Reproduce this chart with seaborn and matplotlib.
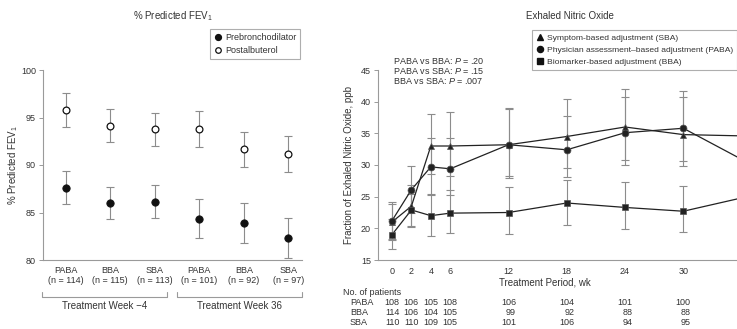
import numpy as np
import pandas as pd
import matplotlib
matplotlib.use("Agg")
import matplotlib.pyplot as plt
import matplotlib.transforms as mtrans
from matplotlib.lines import Line2D
import seaborn as sns

# ---------------- data ----------------
fev_groups = ["PABA\n(n = 114)", "BBA\n(n = 115)", "SBA\n(n = 113)",
              "PABA\n(n = 101)", "BBA\n(n = 92)", "SBA\n(n = 97)"]
pre_mean = [87.6, 86.0, 86.1, 84.3, 83.9, 82.3]
pre_lo = [85.9, 84.3, 84.4, 82.3, 81.8, 80.25]
pre_hi = [89.4, 87.7, 87.9, 86.4, 86.0, 84.45]
post_mean = [95.8, 94.1, 93.75, 93.75, 91.65, 91.2]
post_lo = [94.0, 92.4, 92.0, 91.9, 89.8, 89.3]
post_hi = [97.6, 95.9, 95.5, 95.7, 93.5, 93.1]
week_groups = ["Treatment Week \u22124", "Treatment Week 36"]

weeks = [0, 2, 4, 6, 12, 18, 24, 30, 36]
sba_mean = [21.0, 23.5, 33.0, 33.0, 33.2, 34.5, 36.0, 34.8, 34.6]
sba_lo = [18.2, 20.2, 28.6, 28.3, 28.2, 29.6, 30.0, 29.9, 29.5]
sba_hi = [23.8, 26.8, 38.1, 38.4, 39.0, 40.4, 42.0, 41.7, 40.0]
paba_mean = [21.2, 26.1, 29.7, 29.4, 33.2, 32.4, 35.1, 35.8, 30.9]
paba_lo = [18.3, 22.4, 25.4, 25.3, 28.0, 28.1, 30.8, 30.7, 26.5]
paba_hi = [24.1, 29.8, 34.3, 34.2, 38.9, 37.7, 40.8, 40.8, 35.5]
bba_mean = [19.0, 22.9, 22.0, 22.4, 22.5, 24.0, 23.3, 22.7, 24.8]
bba_lo = [16.7, 20.4, 18.8, 19.2, 19.05, 20.5, 19.9, 19.4, 21.0]
bba_hi = [21.5, 25.4, 25.2, 26.0, 26.6, 27.7, 27.3, 26.7, 28.5]

tick_weeks = [0, 2, 4, 6, 12, 18, 24, 30]
n_paba = ["108", "106", "105", "108", "106", "104", "101", "100"]
n_bba = ["114", "106", "104", "105", "99", "92", "88", "88"]
n_sba = ["110", "110", "109", "105", "101", "106", "94", "95"]

p_texts = ["PABA vs BBA: $P$ = .20", "PABA vs SBA: $P$ = .15", "BBA vs SBA: $P$ = .007"]

# ---------------- style ----------------
sns.set_theme(style="ticks")
TXT = "#333333"
GRID = "#9a9a9a"
ERR = "#8c8c8c"
plt.rcParams["font.family"] = ["Liberation Sans", "DejaVu Sans"]
plt.rcParams["mathtext.fontset"] = "custom"
plt.rcParams["mathtext.rm"] = "Liberation Sans"
plt.rcParams["mathtext.it"] = "Liberation Sans:italic"
plt.rcParams["font.size"] = 6.5
plt.rcParams["text.color"] = TXT
plt.rcParams["axes.labelcolor"] = TXT
plt.rcParams["xtick.color"] = TXT
plt.rcParams["ytick.color"] = TXT

W, H = 737, 329
fig = plt.figure(figsize=(W / 100, H / 100), dpi=100)

def fx(px):
    return px / W

def fy(py):
    return 1 - py / H

# ================= LEFT PANEL =================
axL_x0, axL_x1 = 43, 301.7
axL = fig.add_axes([fx(axL_x0), fy(260), fx(axL_x1 - axL_x0), (260 - 70) / H])
pos = np.arange(len(fev_groups))
dfL = pd.DataFrame({
    "pos": np.concatenate([pos, pos]),
    "val": pre_mean + post_mean,
    "kind": ["Prebronchodilator"] * 6 + ["Postalbuterol"] * 6,
})
axL.errorbar(pos, pre_mean,
             yerr=[np.array(pre_mean) - np.array(pre_lo), np.array(pre_hi) - np.array(pre_mean)],
             fmt="none", ecolor=ERR, elinewidth=0.8, capsize=3, capthick=0.8, zorder=1)
axL.errorbar(pos, post_mean,
             yerr=[np.array(post_mean) - np.array(post_lo), np.array(post_hi) - np.array(post_mean)],
             fmt="none", ecolor=ERR, elinewidth=0.8, capsize=3, capthick=0.8, zorder=1)
sns.scatterplot(data=dfL[dfL.kind == "Prebronchodilator"], x="pos", y="val", ax=axL,
                color="#111111", edgecolor="#111111", s=28, linewidth=0.6, zorder=3, legend=False)
sns.scatterplot(data=dfL[dfL.kind == "Postalbuterol"], x="pos", y="val", ax=axL,
                facecolor="white", edgecolor="#111111", s=24, linewidth=0.9, zorder=3, legend=False)
axL.set_xlim(-0.51, 5.3)
axL.set_ylim(80, 100)
axL.set_yticks([80, 85, 90, 95, 100])
axL.set_xticks(pos)
axL.set_xticklabels(fev_groups, linespacing=1.25)
axL.tick_params(axis="x", length=0, pad=4, labelsize=6.5)
axL.tick_params(axis="y", length=3, width=0.7, color=GRID, pad=2, labelsize=6.5)
axL.set_xlabel("")
axL.set_ylabel("% Predicted FEV$_1$", fontsize=7)
axL.yaxis.set_label_coords(-(axL_x0 - 20) / (axL_x1 - axL_x0), 0.5)
for s in ["top", "right"]:
    axL.spines[s].set_visible(False)
for s in ["left", "bottom"]:
    axL.spines[s].set_color(GRID)
    axL.spines[s].set_linewidth(0.8)

# group brackets
for (x0, x1), lab in zip([(42.3, 166.7), (177.3, 301.7)], week_groups):
    fig.add_artist(Line2D([fx(x0), fx(x0), fx(x1), fx(x1)],
                          [fy(291.5), fy(296.5), fy(296.5), fy(291.5)],
                          color=GRID, lw=0.8, transform=fig.transFigure))
    fig.text(fx((x0 + x1) / 2), fy(306), lab, ha="center", va="center", fontsize=7)

fig.text(fx(173), fy(16), "% Predicted FEV$_1$", ha="center", va="center", fontsize=7)

hL = [Line2D([], [], ls="none", marker="o", ms=4.2, mfc="#111111", mec="#111111"),
      Line2D([], [], ls="none", marker="o", ms=4.0, mfc="white", mec="#111111", mew=0.9)]
legL = fig.legend(hL, ["Prebronchodilator", "Postalbuterol"], loc="upper left",
                  bbox_to_anchor=(fx(210), fy(29.3)), frameon=True, fancybox=False,
                  edgecolor=GRID, fontsize=6.5, handlelength=0.8, handletextpad=0.4,
                  borderpad=0.45, labelspacing=0.45, borderaxespad=0)
legL.get_frame().set_linewidth(0.8)

# ================= RIGHT PANEL =================
axR_x0 = 378
axR = fig.add_axes([fx(axR_x0), fy(260), 1 - fx(axR_x0), (260 - 70) / H])
series = [
    ("SBA", sba_mean, sba_lo, sba_hi),
    ("PABA", paba_mean, paba_lo, paba_hi),
    ("BBA", bba_mean, bba_lo, bba_hi),
]
for name, m, lo, hi in series:
    m = np.array(m); lo = np.array(lo); hi = np.array(hi)
    axR.errorbar(weeks, m, yerr=[m - lo, hi - m], fmt="none", ecolor=ERR,
                 elinewidth=0.8, capsize=3, capthick=0.8, zorder=1)
dfR = pd.DataFrame({
    "week": weeks * 3,
    "val": sba_mean + paba_mean + bba_mean,
    "grp": ["SBA"] * len(weeks) + ["PABA"] * len(weeks) + ["BBA"] * len(weeks),
})
sns.lineplot(data=dfR, x="week", y="val", hue="grp", style="grp",
             hue_order=["SBA", "PABA", "BBA"], style_order=["SBA", "PABA", "BBA"],
             palette=["#222222"] * 3, markers={"SBA": "^", "PABA": "o", "BBA": "s"},
             dashes=False, markersize=5.0, markeredgecolor="#555555", markeredgewidth=0.5,
             linewidth=0.9, ax=axR, legend=False, zorder=3)
axR.set_xlim(-1.44, 35.53)
axR.set_ylim(15, 45)
axR.set_xticks(tick_weeks)
axR.set_yticks([15, 20, 25, 30, 35, 40, 45])
axR.tick_params(axis="x", length=0, pad=5, labelsize=6.5)
axR.tick_params(axis="y", length=3, width=0.7, color=GRID, pad=2, labelsize=6.5)
axR.set_xlabel("Treatment Period, wk", fontsize=7)
axR.xaxis.set_label_coords((545 - axR_x0) / (W - axR_x0), -(277.5 - 260) / 190)
axR.set_ylabel("Fraction of Exhaled Nitric Oxide, ppb", fontsize=7)
axR.yaxis.set_label_coords(-(axR_x0 - 354) / (W - axR_x0), 0.5)
for s in ["top", "right"]:
    axR.spines[s].set_visible(False)
for s in ["left", "bottom"]:
    axR.spines[s].set_color(GRID)
    axR.spines[s].set_linewidth(0.8)

fig.text(fx(570), fy(16), "Exhaled Nitric Oxide", ha="center", va="center", fontsize=7)

for i, t in enumerate(p_texts):
    fig.text(fx(393), fy(60 + 10 * i), t, ha="left", va="center", fontsize=6.5)

hR = [Line2D([], [], ls="none", marker="^", ms=4.6, mfc="#111111", mec="#111111"),
      Line2D([], [], ls="none", marker="o", ms=4.4, mfc="#111111", mec="#111111"),
      Line2D([], [], ls="none", marker="s", ms=4.2, mfc="#111111", mec="#111111")]
legR = fig.legend(hR, ["Symptom-based adjustment (SBA)",
                       "Physician assessment\u2013based adjustment (PABA)",
                       "Biomarker-based adjustment (BBA)"],
                  loc="upper left", bbox_to_anchor=(fx(532.3), fy(30)), frameon=True,
                  fancybox=False, edgecolor=GRID, fontsize=6.1, handlelength=0.8,
                  handletextpad=0.4, borderpad=0.5, labelspacing=0.45, borderaxespad=0)
legR.get_frame().set_linewidth(0.8)

# patient table
fig.text(fx(343), fy(292.7), "No. of patients", ha="left", va="center", fontsize=6.5)
trans = mtrans.blended_transform_factory(axR.transData, fig.transFigure)
trans = mtrans.offset_copy(trans, fig=fig, x=7.5, y=0, units="dots")
for lab, row, py in [("PABA", n_paba, 302.7), ("BBA", n_bba, 312.5), ("SBA", n_sba, 322.3)]:
    fig.text(fx(350), fy(py), lab, ha="left", va="center", fontsize=6.5)
    for wk, n in zip(tick_weeks, row):
        fig.text(wk, fy(py), n, ha="right", va="center", fontsize=6.5, transform=trans)

fig.savefig("out.png", dpi=100)
